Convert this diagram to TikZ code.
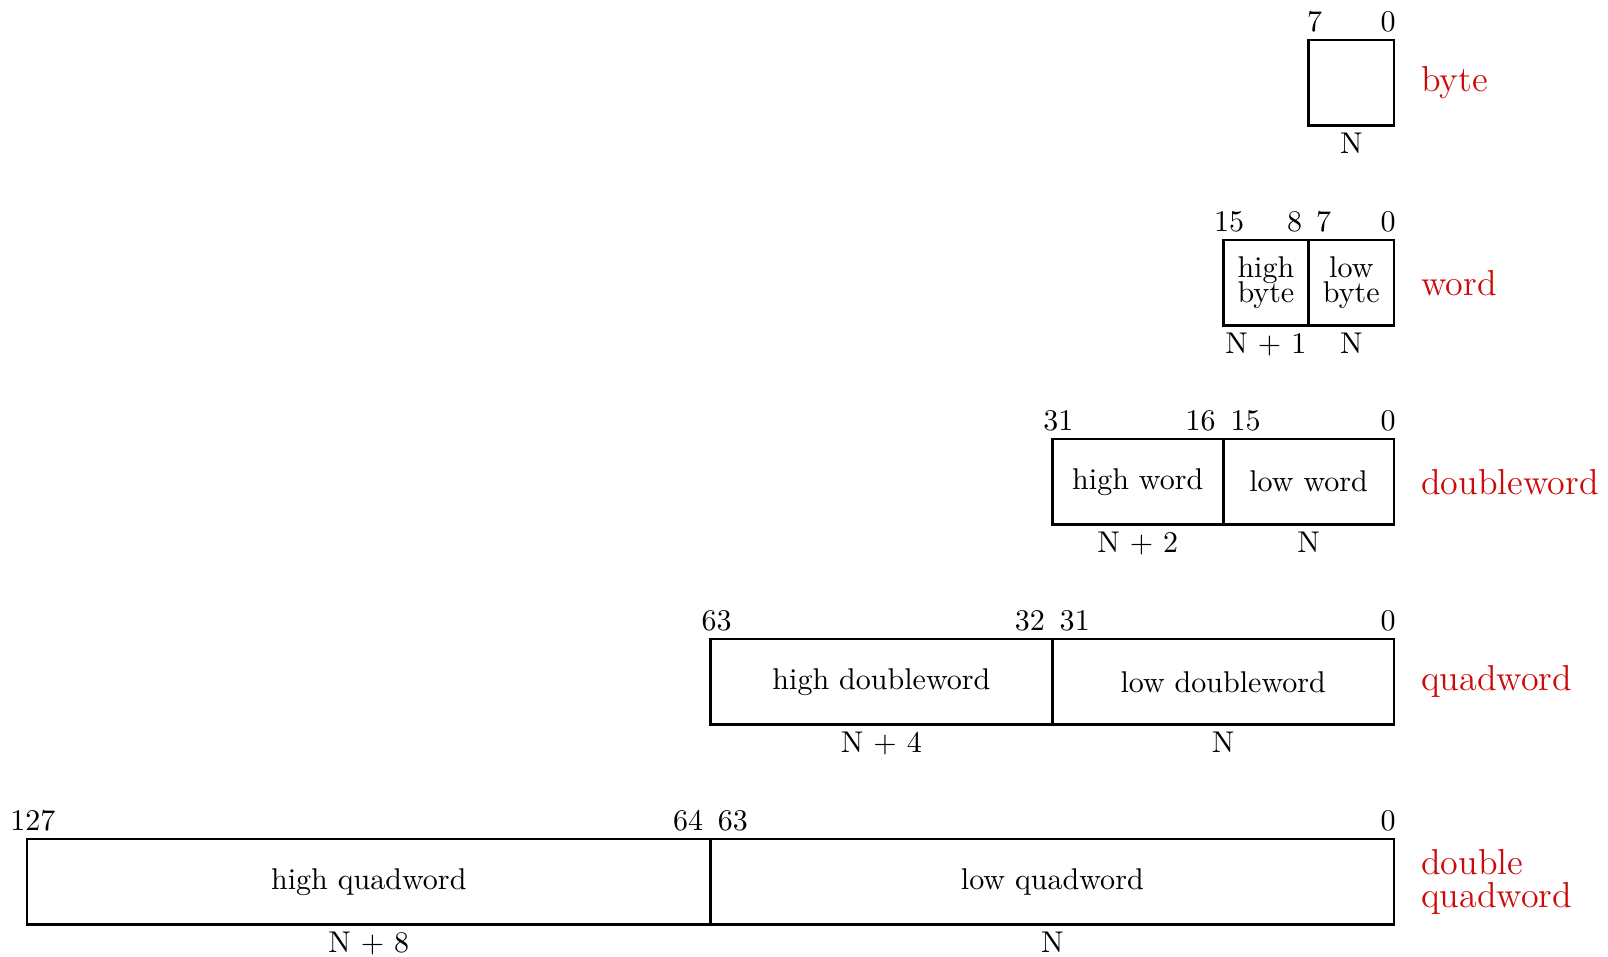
\documentclass[tikz,border=0pt]{standalone}
\usetikzlibrary{calc}
\definecolor{lblred}{RGB}{204,10,10}
\tikzset{
  cell/.style={draw=black, line width=0.9pt, inner sep=0pt, outer sep=0pt, minimum height=1cm, align=center},
  bitno/.style={inner sep=0pt, anchor=base},
  bitnoE/.style={inner sep=0pt, anchor=base east},
  bitnoW/.style={inner sep=0pt, anchor=base west},
  addr/.style={inner sep=0pt, anchor=base},
  kind/.style={inner sep=0pt, anchor=west, text=lblred, font=\large, align=left}
}
\begin{document}
\begin{tikzpicture}
\useasboundingbox (0,0) rectangle (18.82,-11.189);
% byte
\node[cell, minimum width=1cm] (b0) at (15.816,-0.968) {};
\node[bitno] (b0l) at ([xshift=0.07cm,yshift=0.095cm]b0.north west) {7};
\node[bitno] (b0r) at ([xshift=-0.07cm,yshift=0.095cm]b0.north east) {0};
\node[addr] (b0a) at ([yshift=-0.323cm]b0.south) {N};
\node[kind] (bk) at ([xshift=0.31cm]b0.east) {byte};
% word
\node[cell, minimum width=1cm] (w1) at (14.816,-3.309) {high\\[-3.4pt]byte};
\node[cell, minimum width=1cm] (w0) at (15.816,-3.309) {low\\[-3.4pt]byte};
\node[bitno] (w1l) at ([xshift=0.07cm,yshift=0.095cm]w1.north west) {15};
\node[bitnoE] (w1r) at ([xshift=-0.07cm,yshift=0.095cm]w1.north east) {8};
\node[bitnoW] (w0l) at ([xshift=0.08cm,yshift=0.095cm]w0.north west) {7};
\node[bitno] (w0r) at ([xshift=-0.07cm,yshift=0.095cm]w0.north east) {0};
\node[addr] (w1a) at ([yshift=-0.323cm]w1.south) {N + 1};
\node[addr] (w0a) at ([yshift=-0.323cm]w0.south) {N};
\node[kind] (wk) at ([xshift=0.31cm]w0.east) {word};
% doubleword
\node[cell, minimum width=2cm] (d1) at (13.316,-5.638) {high word};
\node[cell, minimum width=2cm] (d0) at (15.316,-5.638) {low word};
\node[bitno] (d1l) at ([xshift=0.07cm,yshift=0.095cm]d1.north west) {31};
\node[bitnoE] (d1r) at ([xshift=-0.08cm,yshift=0.095cm]d1.north east) {16};
\node[bitnoW] (d0l) at ([xshift=0.08cm,yshift=0.095cm]d0.north west) {15};
\node[bitno] (d0r) at ([xshift=-0.07cm,yshift=0.095cm]d0.north east) {0};
\node[addr] (d1a) at ([yshift=-0.323cm]d1.south) {N + 2};
\node[addr] (d0a) at ([yshift=-0.323cm]d0.south) {N};
\node[kind] (dk) at ([xshift=0.31cm]d0.east) {doubleword};
% quadword
\node[cell, minimum width=4cm] (q1) at (10.316,-7.979) {high doubleword};
\node[cell, minimum width=4cm] (q0) at (14.316,-7.979) {low doubleword};
\node[bitno] (q1l) at ([xshift=0.07cm,yshift=0.095cm]q1.north west) {63};
\node[bitnoE] (q1r) at ([xshift=-0.08cm,yshift=0.095cm]q1.north east) {32};
\node[bitnoW] (q0l) at ([xshift=0.08cm,yshift=0.095cm]q0.north west) {31};
\node[bitno] (q0r) at ([xshift=-0.07cm,yshift=0.095cm]q0.north east) {0};
\node[addr] (q1a) at ([yshift=-0.323cm]q1.south) {N + 4};
\node[addr] (q0a) at ([yshift=-0.323cm]q0.south) {N};
\node[kind] (qk) at ([xshift=0.31cm]q0.east) {quadword};
% double quadword
\node[cell, minimum width=8cm] (o1) at (4.316,-10.32) {high quadword};
\node[cell, minimum width=8cm] (o0) at (12.316,-10.32) {low quadword};
\node[bitno] (o1l) at ([xshift=0.07cm,yshift=0.095cm]o1.north west) {127};
\node[bitnoE] (o1r) at ([xshift=-0.08cm,yshift=0.095cm]o1.north east) {64};
\node[bitnoW] (o0l) at ([xshift=0.08cm,yshift=0.095cm]o0.north west) {63};
\node[bitno] (o0r) at ([xshift=-0.07cm,yshift=0.095cm]o0.north east) {0};
\node[addr] (o1a) at ([yshift=-0.323cm]o1.south) {N + 8};
\node[addr] (o0a) at ([yshift=-0.323cm]o0.south) {N};
\node[kind] (ok) at ([xshift=0.31cm]o0.east) {double\\[-3.0pt]quadword};
\end{tikzpicture}
\end{document}
